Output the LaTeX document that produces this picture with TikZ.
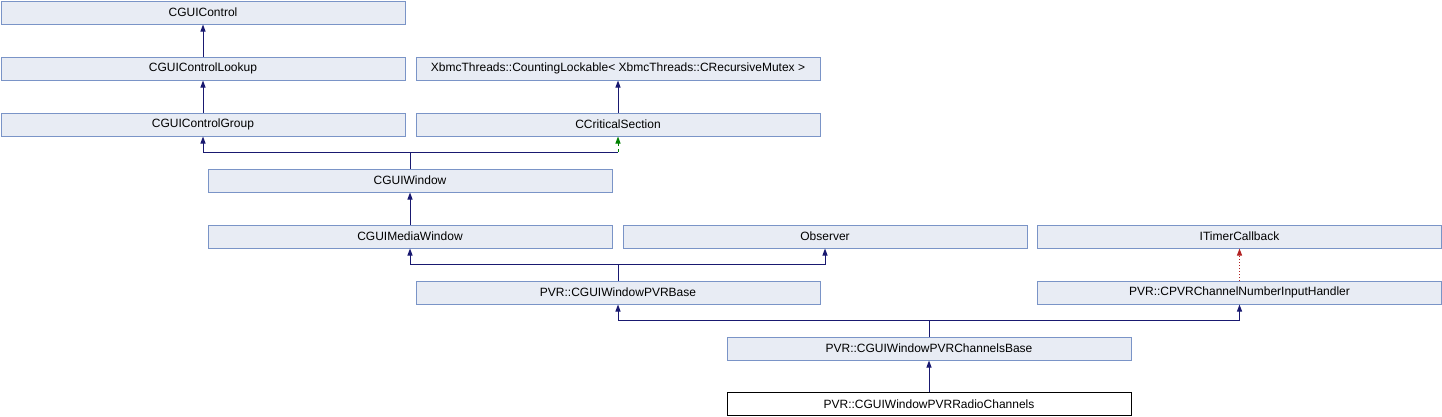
\documentclass[tikz,border=0pt]{standalone}
\usepackage{fontspec}
\setmainfont{Liberation Sans}
\usetikzlibrary{arrows.meta}
\definecolor{boxfill}{RGB}{232,236,244}
\definecolor{boxline}{RGB}{122,148,199}
\definecolor{navy}{RGB}{25,25,112}
\definecolor{dgreen}{RGB}{0,128,0}
\definecolor{fbrick}{RGB}{178,34,34}
\begin{document}
\begin{tikzpicture}[x=1pt,y=-1pt,
  cls/.style={draw=boxline,fill=boxfill,line width=1pt,minimum width=404pt,minimum height=23pt,inner sep=0pt,anchor=north west,font=\fontsize{12}{14}\selectfont},
  cur/.style={cls,draw=black,fill=white},
  tip/.style={-{Triangle[length=7pt,width=5pt]}},
  pub/.style={navy,line width=1pt},
  prot/.style={dgreen,line width=1pt,dashed,tip},
  priv/.style={fbrick,line width=1pt,dotted,tip}]
\useasboundingbox (0,0) rectangle (1442,416);
\node[cls] (control) at (0.5,0.5) {CGUIControl};
\node[cls] (lookup) at (0.5,56.5) {CGUIControlLookup};
\node[cls] (xbmc) at (415.5,56.5) {XbmcThreads::CountingLockable< XbmcThreads::CRecursiveMutex >};
\node[cls] (group) at (0.5,112.5) {CGUIControlGroup};
\node[cls] (crit) at (415.5,112.5) {CCriticalSection};
\node[cls] (window) at (207.5,168.5) {CGUIWindow};
\node[cls] (media) at (207.5,224.5) {CGUIMediaWindow};
\node[cls] (observer) at (622.5,224.5) {Observer};
\node[cls] (timer) at (1037,224.5) {ITimerCallback};
\node[cls] (pvrbase) at (415.5,280.5) {PVR::CGUIWindowPVRBase};
\node[cls] (numinput) at (1037,280.5) {PVR::CPVRChannelNumberInputHandler};
\node[cls] (chbase) at (726.5,336.5) {PVR::CGUIWindowPVRChannelsBase};
\node[cur] (radio) at (726.5,392) {PVR::CGUIWindowPVRRadioChannels};
\draw[pub,tip] (lookup.north) -- (control.south);
\draw[pub,tip] (group.north) -- (lookup.south);
\draw[pub,tip] (crit.north) -- (xbmc.south);
\coordinate (j1) at (window.north |- 0,152);
\coordinate (j2) at (crit.south |- 0,152);
\draw[pub] (window.north) -- (j1);
\draw[pub,tip] (j1) -| (group.south);
\draw[pub] (j1) -- (j2);
\draw[prot] (j2) -- (crit.south);
\draw[pub,tip] (media.north) -- (window.south);
\coordinate (j3) at (pvrbase.north |- 0,264);
\draw[pub] (pvrbase.north) -- (j3);
\draw[pub,tip] (j3) -| (media.south);
\draw[pub,tip] (j3) -| (observer.south);
\draw[priv] (numinput.north) -- (timer.south);
\coordinate (j4) at (chbase.north |- 0,320);
\draw[pub] (chbase.north) -- (j4);
\draw[pub,tip] (j4) -| (pvrbase.south);
\draw[pub,tip] (j4) -| (numinput.south);
\draw[pub,tip] (radio.north) -- (chbase.south);
\end{tikzpicture}
\end{document}
